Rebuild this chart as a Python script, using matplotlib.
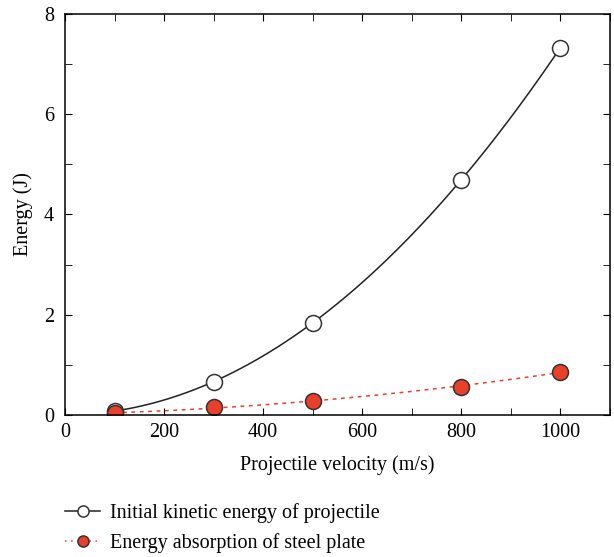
import numpy as np
import matplotlib.pyplot as plt
from matplotlib.ticker import MultipleLocator

plt.rcParams['font.family'] = ['Liberation Serif', 'DejaVu Serif']

# Data
velocity = np.array([100, 300, 500, 800, 1000])
kinetic = np.array([0.08, 0.66, 1.84, 4.69, 7.32])
absorbed = np.array([0.03, 0.16, 0.28, 0.56, 0.86])

labels = ['Initial kinetic energy of projectile',
          'Energy absorption of steel plate']

red = '#e8402a'
edge = '#333333'
fs = 14.5

fig = plt.figure(figsize=(6.14, 5.57), dpi=100)
ax = fig.add_axes([0.106, 0.255, 0.887, 0.72])

# smooth fitted curves through the points
vv = np.linspace(velocity[0], velocity[-1], 200)
ke_fit = np.polyval(np.polyfit(velocity, kinetic, 2), vv)
ab_fit = np.polyval(np.polyfit(velocity, absorbed, 2), vv)

ax.plot(vv, ke_fit, color='#222222', lw=1.1)
ax.plot(vv, ab_fit, color=red, lw=1.1, ls=(0, (2.5, 3)))
ax.plot(velocity, kinetic, 'o', ms=11.5, mfc='white', mec=edge, mew=1.1)
ax.plot(velocity, absorbed, 'o', ms=11.5, mfc=red, mec=edge, mew=1.1)

# legend proxies
h1, = ax.plot([], [], '-o', color='#222222', lw=1.1, ms=8, mfc='white', mec=edge, mew=1.1)
h2, = ax.plot([], [], 'o', color=red, lw=1.1, ls=(0, (1, 3)), ms=8, mfc=red, mec=edge, mew=1.1)
fig.legend([h1, h2], labels, loc='upper left', bbox_to_anchor=(0.093, 0.112),
           frameon=False, fontsize=fs, handlelength=1.75, handletextpad=0.5,
           labelspacing=0.5, borderaxespad=0)

ax.set_xlim(0, 1100)
ax.set_ylim(0, 8)
ax.xaxis.set_major_locator(MultipleLocator(200))
ax.xaxis.set_minor_locator(MultipleLocator(100))
ax.yaxis.set_major_locator(MultipleLocator(2))
ax.yaxis.set_minor_locator(MultipleLocator(1))
ax.tick_params(which='both', direction='in', top=True, right=True, labelsize=fs)
ax.tick_params(which='both', length=5)
ax.tick_params(axis='x', pad=6)
ax.tick_params(axis='y', pad=8)
for s in ax.spines.values():
    s.set_linewidth(1.1)

ax.set_xlabel('Projectile velocity (m/s)', fontsize=fs)
ax.set_ylabel('Energy (J)', fontsize=fs)
ax.xaxis.set_label_coords(0.5, -0.1)
ax.yaxis.set_label_coords(-0.058, 0.5)

fig.savefig('out.png', dpi=100)
